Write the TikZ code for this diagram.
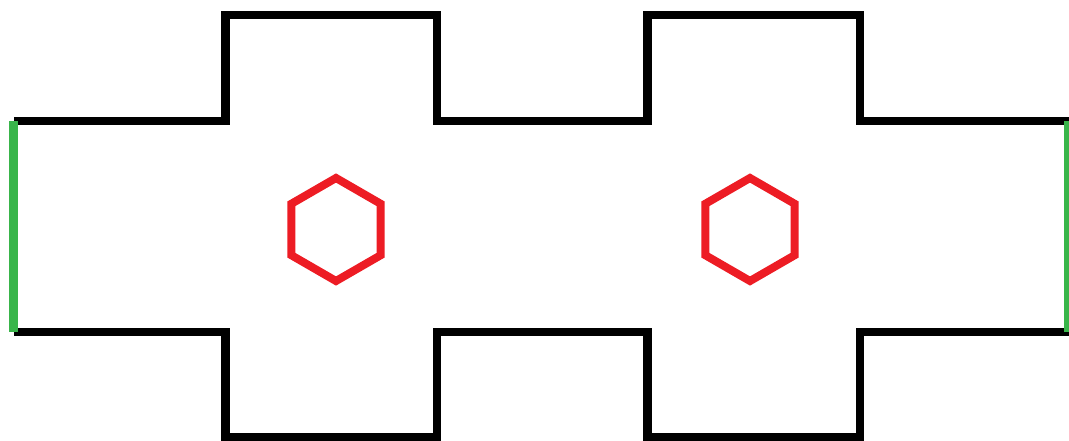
\documentclass[tikz,border=0pt]{standalone}
\usetikzlibrary{shapes.geometric}
\definecolor{wallgreen}{RGB}{57,181,74}
\definecolor{hexred}{RGB}{237,28,36}
\tikzset{
  outline/.style={draw=black, line width=8.5pt, line join=miter},
  endwall/.style={draw=wallgreen, line width=8.5pt, line cap=butt},
  hexmark/.style={regular polygon, regular polygon sides=6, shape border rotate=30, draw=hexred, line width=8pt, minimum size=103pt, inner sep=0pt}
}
\begin{document}
\begin{tikzpicture}[x=1pt,y=-1pt]
\useasboundingbox (0,0) rectangle (1069,441);
% corner coordinates
\coordinate (tl) at (14,121);
\coordinate (tr) at (1069,121);
\coordinate (bl) at (14,332);
\coordinate (br) at (1069,332);
% top outline
\draw[outline] (tl) -- (225.5,121) -- (225.5,15) -- (437,15) -- (437,121) -- (647.5,121) -- (647.5,15) -- (860,15) -- (860,121) -- (tr);
% bottom outline
\draw[outline] (bl) -- (225.5,332) -- (225.5,437) -- (437,437) -- (437,332) -- (647.5,332) -- (647.5,437) -- (860,437) -- (860,332) -- (br);
% green end walls
\coordinate (gl1) at (13.5,121);
\coordinate (gl2) at (13.5,332);
\coordinate (gr1) at (1068.5,121);
\coordinate (gr2) at (1068.5,332);
\draw[endwall] (gl1) -- (gl2);
\draw[endwall] (gr1) -- (gr2);
% hexagons
\node[hexmark] (hexA) at (336,229.5) {};
\node[hexmark] (hexB) at (750,229.5) {};
\end{tikzpicture}
\end{document}
